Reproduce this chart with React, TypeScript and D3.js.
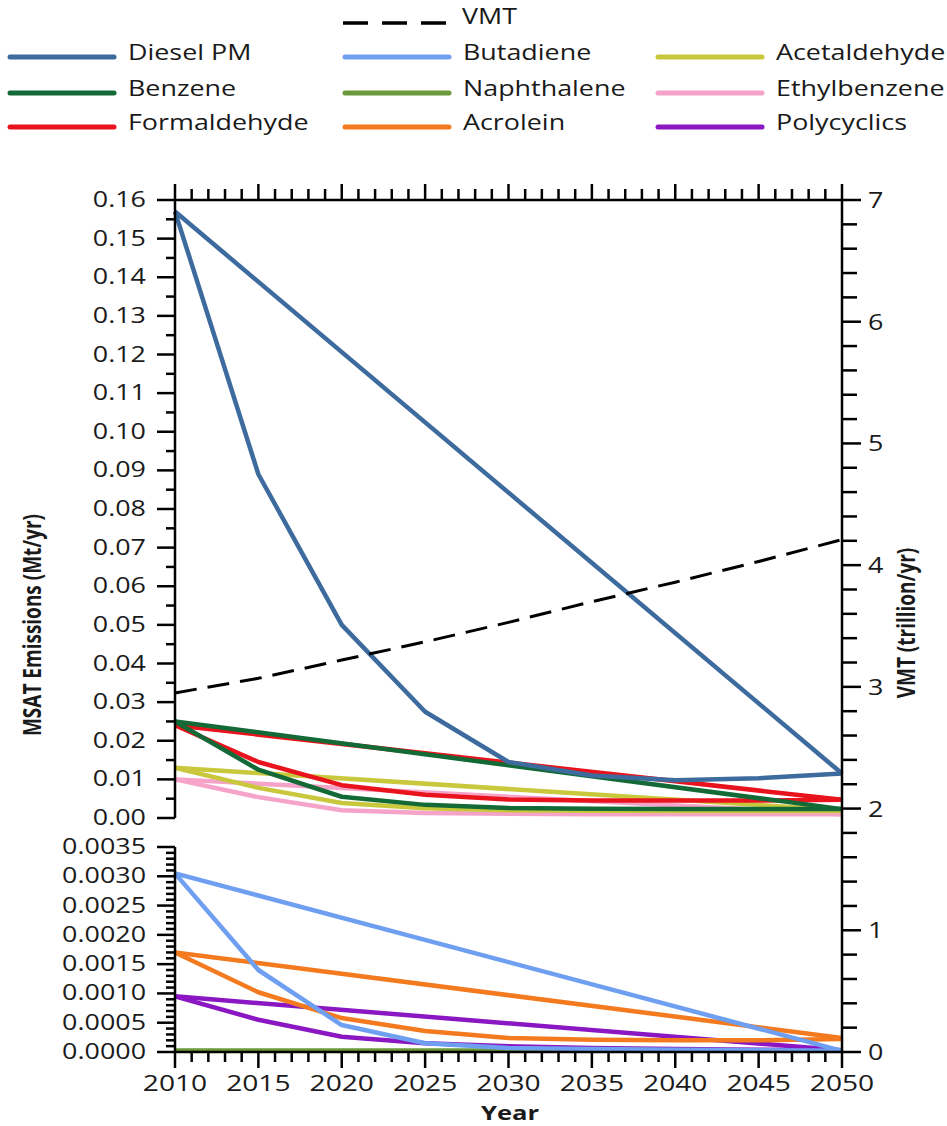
import React, { useEffect, useRef } from 'react'
import * as d3 from 'd3'

// years of the detailed runs and of the straight 2010-2050 runs
const years = [2010, 2015, 2020, 2025, 2030, 2035, 2040, 2045, 2050]
const endYears = [2010, 2050]

// upper panel (Mt/yr)
const dieselPM = [0.157, 0.089, 0.050, 0.0275, 0.0145, 0.011, 0.0098, 0.0103, 0.0115]
const dieselPMLinear = [0.157, 0.0115]
const benzene = [0.025, 0.0125, 0.0055, 0.0034, 0.0026, 0.0024, 0.0023, 0.0023, 0.0023]
const benzeneLinear = [0.025, 0.0023]
const formaldehyde = [0.024, 0.0145, 0.0085, 0.006, 0.0048, 0.0045, 0.0045, 0.0045, 0.0047]
const formaldehydeLinear = [0.024, 0.0047]
const acetaldehyde = [0.013, 0.0078, 0.0039, 0.0025, 0.002, 0.0019, 0.0018, 0.0018, 0.0018]
const acetaldehydeLinear = [0.013, 0.002]
const ethylbenzene = [0.01, 0.0054, 0.002, 0.0013, 0.0011, 0.001, 0.001, 0.001, 0.001]
const ethylbenzeneLinear = [0.01, 0.001]

// lower panel (Mt/yr)
const butadiene = [0.00305, 0.0014, 0.00046, 0.00015, 0.00007, 0.00005, 0.00004, 0.00003, 0.00002]
const butadieneLinear = [0.00305, 0.00002]
const acrolein = [0.0017, 0.00102, 0.00058, 0.00036, 0.00024, 0.00021, 0.0002, 0.0002, 0.00022]
const acroleinLinear = [0.0017, 0.00024]
const polycyclics = [0.00095, 0.00055, 0.00026, 0.00015, 0.0001, 0.00007, 0.00005, 0.00004, 0.00003]
const polycyclicsLinear = [0.00095, 0.00003]
const naphthalene = [0.00002, 0.00002, 0.00002, 0.00002, 0.00002, 0.00002, 0.00002, 0.00002, 0.00002]
const naphthaleneLinear = [0.00002, 0.00002]

// VMT (trillion/yr), right axis
const vmt = [2.95, 3.07, 3.22, 3.37, 3.53, 3.7, 3.86, 4.03, 4.21]

const topTicks = ['0.00', '0.01', '0.02', '0.03', '0.04', '0.05', '0.06', '0.07', '0.08',
  '0.09', '0.10', '0.11', '0.12', '0.13', '0.14', '0.15', '0.16']
const bottomTicks = ['0.0000', '0.0005', '0.0010', '0.0015', '0.0020', '0.0025', '0.0030', '0.0035']
const vmtTicks = ['0', '1', '2', '3', '4', '5', '6', '7']
const yearTicks = ['2010', '2015', '2020', '2025', '2030', '2035', '2040', '2045', '2050']

const colors = {
  diesel: '#3d6b9e',
  butadiene: '#6f9ff0',
  acetaldehyde: '#c9c83d',
  benzene: '#136a36',
  naphthalene: '#6b9a3b',
  ethylbenzene: '#f6a3c9',
  formaldehyde: '#e8131c',
  acrolein: '#f47a1f',
  polycyclics: '#8a17c2',
}

const FONT = '"Open Sans", sans-serif'
const SX = 1.28 // the picture is stretched sideways

export default function App() {
  const ref = useRef<SVGSVGElement | null>(null)

  useEffect(() => {
    const svg = d3.select(ref.current)
    svg.selectAll('*').remove()

    const x = d3.scaleLinear().domain([2010, 2050]).range([175, 842])
    const yTop = d3.scaleLinear().domain([0, 0.16]).range([818, 200])
    const yBot = d3.scaleLinear().domain([0, 0.0035]).range([1052, 847])
    const yVmt = d3.scaleLinear().domain([0, 7]).range([1052, 200])

    const text = (g: any, tx: number, ty: number, s: string, size: number, anchor: string, weight = 'normal', rot = 0) =>
      g.append('text')
        .attr('transform', `translate(${tx},${ty}) scale(${SX},1)` + (rot ? ` rotate(${rot})` : ''))
        .attr('text-anchor', anchor)
        .attr('font-family', FONT)
        .attr('font-size', size)
        .attr('font-weight', weight)
        .attr('fill', '#1a1a1a')
        .text(s)

    // ---- series
    const plot = svg.append('g')
    const draw = (xs: number[], vals: number[], y: any, color: string, w = 4.5, dash?: string) => {
      const line = d3.line<number>().x((d, i) => x(xs[i])).y(d => y(d))
      const p = plot.append('path')
        .attr('d', line(vals))
        .attr('fill', 'none')
        .attr('stroke', color)
        .attr('stroke-width', w)
        .attr('stroke-linejoin', 'round')
      if (dash) p.attr('stroke-dasharray', dash)
    }

    draw(years, ethylbenzene, yTop, colors.ethylbenzene)
    draw(endYears, ethylbenzeneLinear, yTop, colors.ethylbenzene)
    draw(years, acetaldehyde, yTop, colors.acetaldehyde)
    draw(endYears, acetaldehydeLinear, yTop, colors.acetaldehyde)
    draw(years, formaldehyde, yTop, colors.formaldehyde)
    draw(endYears, formaldehydeLinear, yTop, colors.formaldehyde)
    draw(years, benzene, yTop, colors.benzene)
    draw(endYears, benzeneLinear, yTop, colors.benzene)
    draw(years, dieselPM, yTop, colors.diesel)
    draw(endYears, dieselPMLinear, yTop, colors.diesel)

    draw(years, naphthalene, yBot, colors.naphthalene)
    draw(endYears, naphthaleneLinear, yBot, colors.naphthalene)
    draw(years, polycyclics, yBot, colors.polycyclics)
    draw(endYears, polycyclicsLinear, yBot, colors.polycyclics)
    draw(years, acrolein, yBot, colors.acrolein)
    draw(endYears, acroleinLinear, yBot, colors.acrolein)
    draw(years, butadiene, yBot, colors.butadiene)
    draw(endYears, butadieneLinear, yBot, colors.butadiene)

    draw(years, vmt, yVmt, '#000', 3, '22,11')

    // ---- axes
    const ax = svg.append('g').attr('stroke', '#000').attr('stroke-width', 2.5)
    const hline = (x1: number, x2: number, y1: number, y2: number) =>
      ax.append('line').attr('x1', x1).attr('x2', x2).attr('y1', y1).attr('y2', y2)

    // left, upper panel
    hline(175, 175, 200, 818)
    d3.range(0, 0.1601, 0.005).forEach((v, i) => {
      const yy = yTop(v)
      hline(i % 2 === 0 ? 157 : 166, 175, yy, yy)
    })
    topTicks.forEach(t => text(svg, 146, yTop(+t) + 7, t, 21, 'end'))

    // left, lower panel
    hline(175, 175, 847, 1052)
    d3.range(0, 0.00351, 0.0001).forEach((v, i) => {
      const yy = yBot(v)
      hline(i % 5 === 0 ? 157 : 166, 175, yy, yy)
    })
    bottomTicks.forEach(t => text(svg, 146, yBot(+t) + 7, t, 21, 'end'))

    // right, VMT
    hline(842, 842, 200, 1052)
    d3.range(0, 7.01, 0.2).forEach((v, i) => {
      const yy = yVmt(v)
      hline(842, i % 5 === 0 ? 861 : 857, yy, yy)
    })
    vmtTicks.forEach(t => text(svg, 868, yVmt(+t) + 8, t, 21, 'start'))

    // top and bottom year axes
    hline(175, 842, 200, 200)
    hline(175, 842, 1052, 1052)
    d3.range(2010, 2051, 1).forEach(yr => {
      const xx = x(yr)
      const major = (yr - 2010) % 5 === 0
      hline(xx, xx, 200, major ? 184 : 189)
      hline(xx, xx, 1052, major ? 1068 : 1062)
    })
    yearTicks.forEach(t => text(svg, x(+t), 1091, t, 22, 'middle'))

    text(svg, 510, 1120, 'Year', 20, 'middle', 'bold')
    text(svg, 41, 625, 'MSAT Emissions (Mt/yr)', 19, 'middle', 'bold', -90)
    text(svg, 915, 623, 'VMT (trillion/yr)', 19, 'middle', 'bold', -90)

    // ---- legend
    const legend = [
      { name: 'Diesel PM', color: colors.diesel, col: 0, row: 0 },
      { name: 'Benzene', color: colors.benzene, col: 0, row: 1 },
      { name: 'Formaldehyde', color: colors.formaldehyde, col: 0, row: 2 },
      { name: 'Butadiene', color: colors.butadiene, col: 1, row: 0 },
      { name: 'Naphthalene', color: colors.naphthalene, col: 1, row: 1 },
      { name: 'Acrolein', color: colors.acrolein, col: 1, row: 2 },
      { name: 'Acetaldehyde', color: colors.acetaldehyde, col: 2, row: 0 },
      { name: 'Ethylbenzene', color: colors.ethylbenzene, col: 2, row: 1 },
      { name: 'Polycyclics', color: colors.polycyclics, col: 2, row: 2 },
    ]
    const colX = [10, 345, 658]
    const rowY = [57, 93, 127]
    const lg = svg.append('g')
    legend.forEach(d => {
      const lx = colX[d.col]
      const ly = rowY[d.row]
      lg.append('line')
        .attr('x1', lx).attr('x2', lx + 104).attr('y1', ly).attr('y2', ly)
        .attr('stroke', d.color).attr('stroke-width', 5).attr('stroke-linecap', 'round')
      text(lg, lx + 118, ly + 3, d.name, 21, 'start')
    })
    lg.append('line')
      .attr('x1', 343).attr('x2', 446).attr('y1', 23).attr('y2', 23)
      .attr('stroke', '#000').attr('stroke-width', 3.5).attr('stroke-dasharray', '25,14')
    text(lg, 462, 24, 'VMT', 21, 'start')
  }, [])

  return (
    <svg ref={ref} width={947} height={1126} style={{ position: 'absolute', left: 0, top: 0, display: 'block' }} />
  )
}
